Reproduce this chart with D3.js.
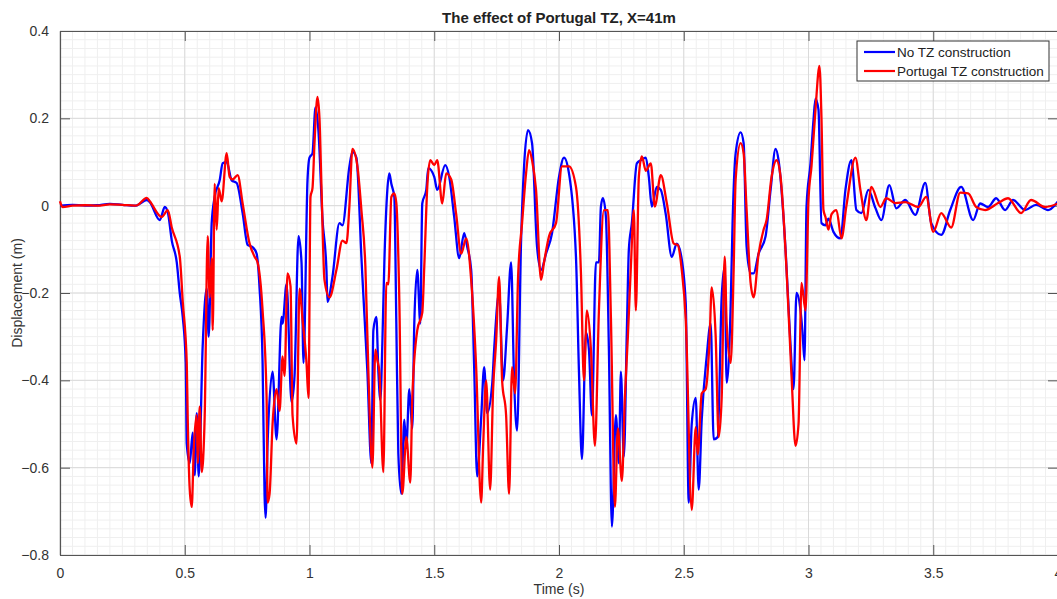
<!DOCTYPE html>
<html>
<head>
<meta charset="utf-8">
<script src="https://cdn.jsdelivr.net/npm/d3@7"></script>
<style>
  body { margin: 0; background: #fff; }
  text { font-family: "Liberation Sans", Arial, sans-serif; }
</style>
</head>
<body>
<div id="chart-area"></div>
<script>
// series names (legend)
var seriesNames = ["No TZ construction", "Portugal TZ construction"];
var seriesColors = ["#0000ff", "#ff0000"];

var xTicks = [0, 0.5, 1, 1.5, 2, 2.5, 3, 3.5, 4];
var yTicks = [-0.8, -0.6, -0.4, -0.2, 0, 0.2, 0.4];

// [time (s), displacement (m)]
var noTZ = [
    [0, 0], [0.05, 0.002], [0.1, 0], [0.15, 0.001], [0.2, 0.004], [0.25, 0.002], [0.3, 0], [0.31, 0.001],
    [0.348, 0.013], [0.36, 0.008], [0.40, -0.033], [0.42, -0.003], [0.432, -0.015], [0.448, -0.08],
    [0.468, -0.13], [0.48, -0.20], [0.492, -0.255], [0.504, -0.36], [0.508, -0.545], [0.52, -0.59],
    [0.532, -0.52], [0.54, -0.617], [0.548, -0.475], [0.556, -0.62], [0.572, -0.32], [0.588, -0.19],
    [0.596, -0.30], [0.608, -0.04], [0.62, 0.02], [0.64, 0.058], [0.652, 0.097], [0.668, 0.10],
    [0.688, 0.058], [0.708, 0.052], [0.732, -0.017], [0.752, -0.09], [0.772, -0.095], [0.788, -0.11],
    [0.80, -0.19], [0.812, -0.36], [0.82, -0.665], [0.824, -0.715], [0.832, -0.545], [0.852, -0.38],
    [0.868, -0.535], [0.888, -0.255], [0.892, -0.27], [0.908, -0.18], [0.928, -0.45], [0.94, -0.39],
    [0.956, -0.07], [0.968, -0.13], [0.976, -0.36], [0.992, 0.058], [1.0, 0.11], [1.012, 0.12],
    [1.024, 0.225], [1.036, 0.17], [1.052, -0.03], [1.068, -0.148], [1.072, -0.22], [1.092, -0.163],
    [1.12, -0.04], [1.132, -0.045], [1.16, 0.09], [1.172, 0.123], [1.188, 0.11], [1.208, -0.117],
    [1.212, -0.163], [1.232, -0.38], [1.248, -0.59], [1.256, -0.285], [1.268, -0.255], [1.276, -0.38],
    [1.284, -0.445], [1.292, -0.315], [1.30, -0.13], [1.312, 0.036], [1.32, 0.074], [1.328, 0.05],
    [1.34, 0.02], [1.348, -0.27], [1.356, -0.567], [1.368, -0.66], [1.38, -0.49], [1.388, -0.555],
    [1.40, -0.42], [1.412, -0.51], [1.42, -0.27], [1.432, -0.147], [1.444, -0.27], [1.452, 0.005],
    [1.468, 0.036], [1.476, 0.086], [1.50, 0.066], [1.512, 0.036], [1.544, 0.093], [1.56, 0.066],
    [1.58, -0.026], [1.60, -0.12], [1.62, -0.063], [1.632, -0.094], [1.648, -0.147], [1.66, -0.37],
    [1.672, -0.62], [1.688, -0.487], [1.70, -0.37], [1.712, -0.475], [1.732, -0.41], [1.74, -0.33],
    [1.76, -0.20], [1.776, -0.40], [1.792, -0.277], [1.808, -0.13], [1.82, -0.40], [1.832, -0.515],
    [1.848, -0.08], [1.86, 0.09], [1.876, 0.173], [1.892, 0.143], [1.912, -0.094], [1.928, -0.147],
    [1.948, -0.11], [1.972, -0.063], [2.0, 0.066], [2.02, 0.11], [2.04, 0.074], [2.068, -0.117],
    [2.08, -0.38], [2.092, -0.58], [2.108, -0.29], [2.12, -0.33], [2.132, -0.48], [2.148, -0.13],
    [2.16, -0.13], [2.168, -0.002], [2.176, 0.017], [2.188, -0.025], [2.20, -0.33], [2.212, -0.735],
    [2.228, -0.48], [2.24, -0.59], [2.248, -0.38], [2.26, -0.575], [2.272, -0.285], [2.28, -0.10],
    [2.292, -0.04], [2.312, 0.097], [2.328, 0.104], [2.348, 0.11], [2.36, 0.066], [2.372, -0.002],
    [2.392, 0.043], [2.408, 0.036], [2.428, -0.02], [2.452, -0.117], [2.472, -0.087], [2.488, -0.11],
    [2.508, -0.224], [2.52, -0.68], [2.532, -0.50], [2.548, -0.44], [2.56, -0.65], [2.572, -0.49],
    [2.592, -0.345], [2.608, -0.27], [2.62, -0.535], [2.636, -0.53], [2.652, -0.21], [2.664, -0.14],
    [2.672, -0.405], [2.688, -0.23], [2.696, -0.033], [2.708, 0.12], [2.728, 0.168], [2.74, 0.143],
    [2.752, -0.094], [2.768, -0.155], [2.78, -0.155], [2.80, -0.11], [2.828, -0.07], [2.848, 0.036],
    [2.868, 0.13], [2.88, 0.104], [2.908, -0.10], [2.928, -0.32], [2.94, -0.42], [2.952, -0.20],
    [2.968, -0.24], [2.976, -0.29], [2.984, -0.354], [2.992, -0.003], [3.008, 0.097], [3.02, 0.196],
    [3.028, 0.245], [3.04, 0.22], [3.052, -0.04], [3.068, -0.045], [3.08, -0.03], [3.10, -0.06],
    [3.128, -0.075], [3.148, 0.036], [3.172, 0.104], [3.192, -0.01], [3.212, -0.017], [3.24, 0.036],
    [3.268, -0.005], [3.292, -0.033], [3.324, 0.047], [3.352, -0.006], [3.388, 0.013], [3.428, -0.021],
    [3.468, 0.052], [3.492, -0.04], [3.532, -0.067], [3.568, -0.01], [3.612, 0.043], [3.66, -0.033],
    [3.688, 0.005], [3.72, -0.003], [3.752, 0.017], [3.788, -0.01], [3.82, 0.013], [3.868, -0.01],
    [3.912, 0.002], [3.96, -0.01], [4.0, 0.01]
];

var portugalTZ = [
    [0, 0.01], [0.01, -0.003], [0.05, 0], [0.1, 0.001], [0.15, 0], [0.2, 0.003], [0.25, 0.002], [0.3, 0],
    [0.31, 0.001], [0.348, 0.018], [0.36, 0.01], [0.408, -0.026], [0.432, -0.01], [0.448, -0.05],
    [0.48, -0.117], [0.492, -0.22], [0.508, -0.36], [0.512, -0.49], [0.52, -0.65], [0.528, -0.69],
    [0.536, -0.56], [0.548, -0.48], [0.552, -0.59], [0.56, -0.46], [0.568, -0.61], [0.58, -0.48],
    [0.592, -0.07], [0.60, -0.21], [0.608, -0.12], [0.612, -0.285], [0.62, 0.05], [0.628, -0.055],
    [0.636, 0.04], [0.648, 0.01], [0.668, 0.12], [0.68, 0.066], [0.692, 0.06], [0.712, 0.07],
    [0.732, 0.005], [0.76, -0.087], [0.78, -0.117], [0.792, -0.13], [0.812, -0.24], [0.828, -0.44],
    [0.832, -0.68], [0.84, -0.66], [0.852, -0.50], [0.868, -0.42], [0.88, -0.47], [0.892, -0.345],
    [0.90, -0.39], [0.912, -0.155], [0.924, -0.185], [0.932, -0.48], [0.948, -0.545], [0.96, -0.19],
    [0.972, -0.26], [0.988, -0.36], [0.996, -0.44], [1.004, 0.02], [1.012, 0.04], [1.02, 0.143],
    [1.032, 0.249], [1.04, 0.2], [1.048, 0.043], [1.06, -0.17], [1.08, -0.21], [1.108, -0.147],
    [1.132, -0.08], [1.148, -0.086], [1.16, 0.0], [1.172, 0.13], [1.192, 0.09], [1.208, -0.01],
    [1.224, -0.14], [1.236, -0.38], [1.252, -0.60], [1.264, -0.33], [1.272, -0.354], [1.28, -0.38],
    [1.296, -0.61], [1.308, -0.177], [1.316, -0.18], [1.328, 0.02], [1.34, 0.028], [1.348, 0.006],
    [1.36, -0.216], [1.372, -0.66], [1.388, -0.53], [1.404, -0.634], [1.412, -0.44], [1.432, -0.285],
    [1.452, -0.245], [1.46, -0.14], [1.472, 0.043], [1.484, 0.104], [1.50, 0.093], [1.512, 0.104],
    [1.532, 0.005], [1.548, 0.074], [1.568, 0.06], [1.588, -0.02], [1.608, -0.11], [1.628, -0.075],
    [1.648, -0.17], [1.668, -0.37], [1.688, -0.68], [1.696, -0.55], [1.708, -0.40], [1.724, -0.65],
    [1.736, -0.42], [1.748, -0.31], [1.76, -0.163], [1.772, -0.40], [1.788, -0.48], [1.80, -0.66],
    [1.812, -0.37], [1.824, -0.43], [1.836, -0.163], [1.852, -0.04], [1.868, 0.074], [1.88, 0.127],
    [1.892, 0.104], [1.908, 0.036], [1.928, -0.17], [1.94, -0.13], [1.96, -0.07], [1.988, -0.04],
    [2.012, 0.09], [2.04, 0.09], [2.068, 0.043], [2.088, -0.155], [2.10, -0.40], [2.112, -0.24],
    [2.128, -0.33], [2.144, -0.55], [2.16, -0.24], [2.18, -0.01], [2.196, -0.01], [2.208, -0.255],
    [2.224, -0.69], [2.236, -0.51], [2.252, -0.63], [2.264, -0.44], [2.276, -0.30], [2.288, -0.14],
    [2.30, -0.01], [2.308, -0.24], [2.32, 0.066], [2.332, 0.113], [2.348, 0.08], [2.368, 0.097],
    [2.384, -0.002], [2.408, 0.07], [2.432, 0.006], [2.46, -0.087], [2.476, -0.09], [2.492, -0.147],
    [2.508, -0.26], [2.532, -0.697], [2.548, -0.507], [2.556, -0.57], [2.572, -0.43], [2.588, -0.42],
    [2.604, -0.30], [2.612, -0.187], [2.628, -0.30], [2.64, -0.53], [2.652, -0.44], [2.664, -0.117],
    [2.672, -0.27], [2.688, -0.36], [2.70, -0.147], [2.708, 0.06], [2.728, 0.143], [2.74, 0.12],
    [2.752, -0.01], [2.768, -0.177], [2.78, -0.21], [2.80, -0.11], [2.82, -0.055], [2.832, -0.033],
    [2.852, 0.066], [2.872, 0.104], [2.888, 0.066], [2.912, -0.147], [2.932, -0.39], [2.948, -0.55],
    [2.96, -0.50], [2.972, -0.177], [2.988, -0.24], [3.0, 0.013], [3.012, 0.09], [3.028, 0.22],
    [3.044, 0.32], [3.052, 0.2], [3.06, -0.01], [3.068, -0.026], [3.08, -0.055], [3.092, -0.02],
    [3.112, -0.01], [3.132, -0.075], [3.152, 0.0], [3.188, 0.11], [3.208, 0.036], [3.232, -0.033],
    [3.252, 0.043], [3.288, -0.003], [3.312, 0.017], [3.348, 0.006], [3.388, 0.008], [3.44, -0.003],
    [3.472, 0.02], [3.50, -0.06], [3.532, -0.017], [3.572, -0.05], [3.608, 0.03], [3.64, 0.028],
    [3.672, -0.003], [3.708, -0.01], [3.76, 0.006], [3.80, 0.017], [3.852, -0.017], [3.892, 0.013],
    [3.948, -0.003], [4.0, 0.005]
];

var width = 1057, height = 599;
var plotLeft = 60, plotRight = 1058, plotTop = 31, plotBottom = 555;

var svg = d3.select("#chart-area").append("svg")
    .attr("width", width)
    .attr("height", height);

var x = d3.scaleLinear().domain([0, 4]).range([plotLeft, plotRight]);
var y = d3.scaleLinear().domain([-0.8, 0.4]).range([plotBottom, plotTop]);

// minor grid
var xMinor = d3.range(0, 4.0001, 0.05);
var yMinor = d3.range(-0.8, 0.4001, 0.02);

svg.append("g").selectAll("line")
    .data(xMinor)
    .enter().append("line")
    .attr("x1", d => x(d)).attr("x2", d => x(d))
    .attr("y1", plotTop).attr("y2", plotBottom)
    .attr("stroke", "#efefef");

svg.append("g").selectAll("line")
    .data(yMinor)
    .enter().append("line")
    .attr("x1", plotLeft).attr("x2", plotRight)
    .attr("y1", d => y(d)).attr("y2", d => y(d))
    .attr("stroke", "#efefef");

// major grid
svg.append("g").selectAll("line")
    .data(xTicks)
    .enter().append("line")
    .attr("x1", d => x(d)).attr("x2", d => x(d))
    .attr("y1", plotTop).attr("y2", plotBottom)
    .attr("stroke", "#dadada");

svg.append("g").selectAll("line")
    .data(yTicks)
    .enter().append("line")
    .attr("x1", plotLeft).attr("x2", plotRight)
    .attr("y1", d => y(d)).attr("y2", d => y(d))
    .attr("stroke", "#dadada");

// axes (ticks inward, on all four sides)
var xAxis = svg.append("g")
    .attr("transform", "translate(0," + plotBottom + ")")
    .call(d3.axisBottom(x).tickValues(xTicks).tickFormat(d3.format("")).tickSizeInner(-10).tickSizeOuter(0).tickPadding(13));
var yAxis = svg.append("g")
    .attr("transform", "translate(" + plotLeft + ",0)")
    .call(d3.axisLeft(y).tickValues(yTicks).tickFormat(d3.format("")).tickSizeInner(-10).tickSizeOuter(0).tickPadding(15));
var xTop = svg.append("g")
    .attr("transform", "translate(0," + plotTop + ")")
    .call(d3.axisTop(x).tickValues(xTicks).tickFormat("").tickSizeInner(-10).tickSizeOuter(0));
var yRight = svg.append("g")
    .attr("transform", "translate(" + plotRight + ",0)")
    .call(d3.axisRight(y).tickValues(yTicks).tickFormat("").tickSizeInner(-10).tickSizeOuter(0));

[xAxis, yAxis, xTop, yRight].forEach(g => {
    g.select(".domain").attr("stroke", "#555").attr("stroke-width", 1.2);
    g.selectAll(".tick line").attr("stroke", "#555");
    g.selectAll(".tick text")
        .attr("fill", "#333")
        .style("font-size", "14px")
        .style("font-family", "'Liberation Sans', Arial, sans-serif");
});
yAxis.selectAll(".tick text").attr("dx", "4");

// lines
var line = d3.line()
    .curve(d3.curveMonotoneX)
    .x(d => x(d[0]))
    .y(d => y(d[1]));

svg.append("path")
    .datum(noTZ)
    .attr("fill", "none")
    .attr("stroke", seriesColors[0])
    .attr("stroke-width", 2.3)
    .attr("stroke-linejoin", "round")
    .attr("d", line);

svg.append("path")
    .datum(portugalTZ)
    .attr("fill", "none")
    .attr("stroke", seriesColors[1])
    .attr("stroke-width", 2.3)
    .attr("stroke-linejoin", "round")
    .attr("d", line);

// title and axis labels
svg.append("text")
    .attr("x", (plotLeft + plotRight) / 2)
    .attr("y", 23)
    .attr("text-anchor", "middle")
    .attr("font-weight", "bold")
    .attr("fill", "#222")
    .style("font-size", "15px")
    .text("The effect of Portugal TZ, X=41m");

svg.append("text")
    .attr("x", (plotLeft + plotRight) / 2)
    .attr("y", 594)
    .attr("text-anchor", "middle")
    .attr("fill", "#333")
    .style("font-size", "14px")
    .text("Time (s)");

svg.append("text")
    .attr("transform", "translate(22," + (plotTop + plotBottom) / 2 + ") rotate(-90)")
    .attr("text-anchor", "middle")
    .attr("fill", "#333")
    .style("font-size", "14px")
    .text("Displacement (m)");

// legend
var legend = svg.append("g").attr("transform", "translate(857,41)");
legend.append("rect")
    .attr("width", 192).attr("height", 40)
    .attr("fill", "#fff")
    .attr("stroke", "#333");

legend.selectAll(".item")
    .data(seriesNames)
    .enter().append("g")
    .attr("class", "item")
    .attr("transform", (d, i) => "translate(0," + (11 + i * 19) + ")")
    .each(function(d, i) {
        var g = d3.select(this);
        g.append("line")
            .attr("x1", 7).attr("x2", 38)
            .attr("stroke", seriesColors[i]).attr("stroke-width", 2.2);
        g.append("text")
            .attr("x", 40).attr("dy", "0.35em")
            .attr("fill", "#222")
            .style("font-size", "13.5px")
            .text(d);
    });
</script>
</body>
</html>
